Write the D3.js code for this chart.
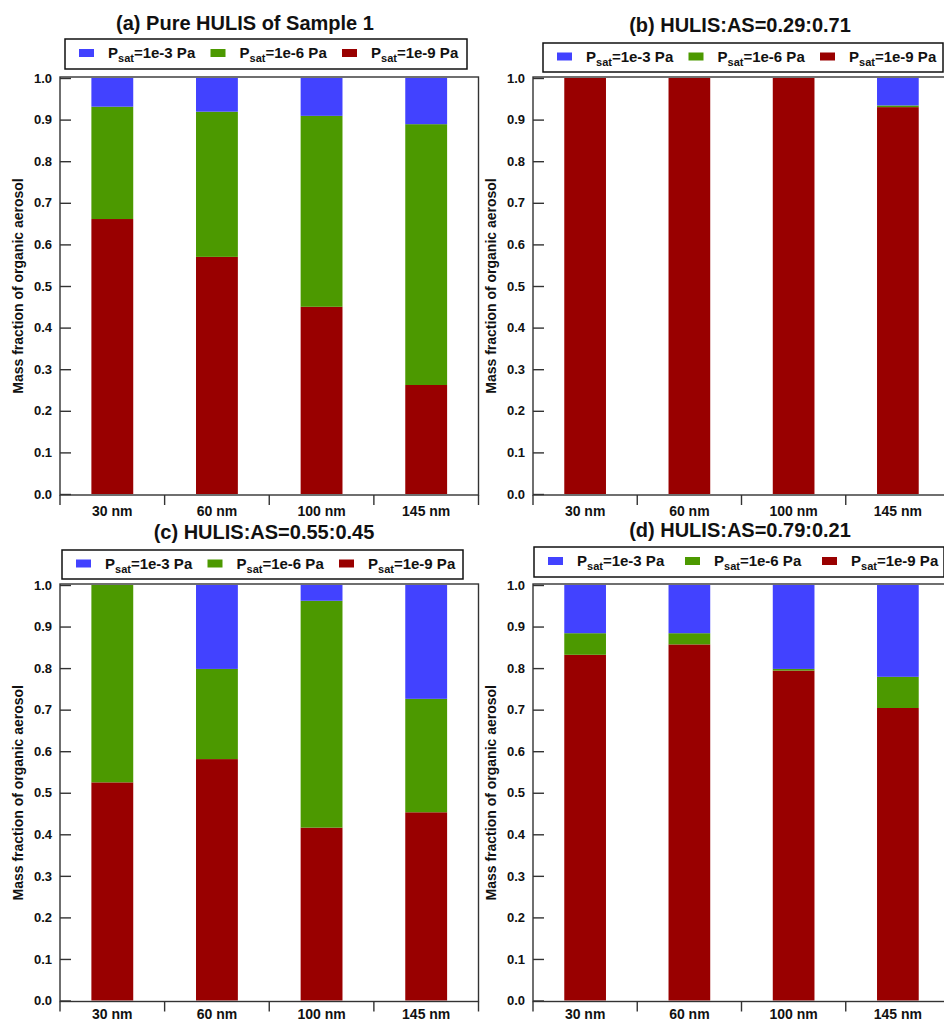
<!DOCTYPE html>
<html>
<head>
<meta charset="utf-8">
<script src="https://cdn.jsdelivr.net/npm/d3@7"></script>
<style>
  html, body { margin: 0; padding: 0; background: #fff; }
  svg { display: block; }
  text { font-family: "Liberation Sans", Arial, sans-serif; font-weight: bold; fill: #111; }
</style>
</head>
<body>
<script>
// ---------------- DATA ----------------
const categories = ["30 nm", "60 nm", "100 nm", "145 nm"];
const seriesKeys = ["p9", "p6", "p3"]; // stacking order bottom -> top
const legendOrder = ["p3", "p6", "p9"];
const legendExp = { p3: "=1e-3 Pa", p6: "=1e-6 Pa", p9: "=1e-9 Pa" };
const yTickValues = [0, 0.1, 0.2, 0.3, 0.4, 0.5, 0.6, 0.7, 0.8, 0.9, 1.0];
const yAxisTitle = "Mass fraction of organic aerosol";

// Panel (a) Pure HULIS of Sample 1
const aTitle = "(a) Pure HULIS of Sample 1";
const aP9 = [0.661, 0.570, 0.450, 0.262];
const aP6 = [0.270, 0.349, 0.459, 0.627];
const aP3 = [0.069, 0.081, 0.091, 0.111];

// Panel (b) HULIS:AS=0.29:0.71
const bTitle = "(b) HULIS:AS=0.29:0.71";
const bP9 = [1.000, 1.000, 1.000, 0.930];
const bP6 = [0.000, 0.000, 0.000, 0.004];
const bP3 = [0.000, 0.000, 0.000, 0.066];

// Panel (c) HULIS:AS=0.55:0.45
const cTitle = "(c) HULIS:AS=0.55:0.45";
const cP9 = [0.525, 0.581, 0.416, 0.453];
const cP6 = [0.475, 0.217, 0.546, 0.273];
const cP3 = [0.000, 0.202, 0.038, 0.274];

// Panel (d) HULIS:AS=0.79:0.21
const dTitle = "(d) HULIS:AS=0.79:0.21";
const dP9 = [0.832, 0.857, 0.794, 0.704];
const dP6 = [0.052, 0.027, 0.004, 0.075];
const dP3 = [0.116, 0.116, 0.202, 0.221];

// ---------------- STYLE / LAYOUT ----------------
const colors = { p3: "#4242ff", p6: "#4c9900", p9: "#990000" };

const panels = [
  { title: aTitle, p9: aP9, p6: aP6, p3: aP3,
    left: 60, right: 478.5, yTop: 78, yBot: 494, xPad: 11,
    titleX: 245, titleY: 30,
    leg: { x: 65, y: 39, w: 402, h: 30, step: 131.5 } },
  { title: bTitle, p9: bP9, p6: bP6, p3: bP3,
    left: 533, right: 950, yTop: 78, yBot: 494, xPad: 11,
    titleX: 740, titleY: 32,
    leg: { x: 543, y: 43, w: 400, h: 29, step: 131.5 } },
  { title: cTitle, p9: cP9, p6: cP6, p3: cP3,
    left: 60, right: 478.5, yTop: 585, yBot: 1000.5, xPad: 8,
    titleX: 264, titleY: 539,
    leg: { x: 62, y: 550, w: 401, h: 29, step: 131.5 } },
  { title: dTitle, p9: dP9, p6: dP6, p3: dP3,
    left: 533, right: 950, yTop: 585, yBot: 1000.5, xPad: 8,
    titleX: 740, titleY: 537,
    leg: { x: 534, y: 547, w: 410, h: 30, step: 137 } }
];

const W = 944, H = 1023;
const svg = d3.select("body").append("svg").attr("width", W).attr("height", H);

panels.forEach(p => {
  const g = svg.append("g");

  const x = d3.scaleBand().domain(categories).range([p.left, p.right])
    .paddingInner(0.6).paddingOuter(0.3);
  const y = d3.scaleLinear().domain([0, 1]).range([p.yBot, p.yTop]);

  const rows = categories.map((c, i) => ({ cat: c, p9: p.p9[i], p6: p.p6[i], p3: p.p3[i] }));
  const stacked = d3.stack().keys(seriesKeys)(rows);

  // bars
  g.append("g").selectAll("g").data(stacked).join("g")
    .attr("fill", d => colors[d.key])
    .selectAll("rect").data(d => d.filter(v => v[1] - v[0] > 0)).join("rect")
    .attr("x", d => x(d.data.cat))
    .attr("width", x.bandwidth())
    .attr("y", d => y(d[1]))
    .attr("height", d => Math.max(1, y(d[0]) - y(d[1])));

  // frame
  g.append("rect")
    .attr("x", p.left).attr("y", y(1) - 1)
    .attr("width", p.right - p.left).attr("height", y(0) - y(1) + 2)
    .attr("fill", "none").attr("stroke", "#333").attr("stroke-width", 1.4);

  // y axis (inward ticks)
  const yAxis = d3.axisLeft(y).tickValues(yTickValues).tickFormat(d3.format(".1f"))
    .tickSize(-11).tickPadding(8);
  const ya = g.append("g").attr("transform", `translate(${p.left},0)`).call(yAxis);
  ya.select(".domain").remove();
  ya.selectAll(".tick line").attr("stroke", "#333").attr("stroke-width", 1.4);
  ya.selectAll(".tick text").attr("font-size", 13).attr("font-weight", "bold")
    .attr("font-family", "Liberation Sans, Arial, sans-serif").attr("fill", "#111");

  // x axis: labels at band centers, ticks at band boundaries
  const xAxis = d3.axisBottom(x).tickSize(0).tickPadding(p.xPad);
  const xa = g.append("g").attr("transform", `translate(0,${y(0) + 1})`).call(xAxis);
  xa.select(".domain").remove();
  xa.selectAll(".tick text").attr("font-size", 14).attr("font-weight", "bold")
    .attr("font-family", "Liberation Sans, Arial, sans-serif").attr("fill", "#111");

  const bounds = d3.range(categories.length + 1).map(i => p.left + i * x.step());
  g.append("g").selectAll("line").data(bounds).join("line")
    .attr("x1", d => d).attr("x2", d => d)
    .attr("y1", y(0) + 1).attr("y2", y(0) + 11)
    .attr("stroke", "#333").attr("stroke-width", 1.4);

  // y axis title
  g.append("text")
    .attr("transform", `translate(${p.left - 37},${(y(0) + y(1)) / 2}) rotate(-90)`)
    .attr("text-anchor", "middle").attr("font-size", 14)
    .text(yAxisTitle);

  // title
  g.append("text").attr("x", p.titleX).attr("y", p.titleY)
    .attr("text-anchor", "middle").attr("font-size", 20).text(p.title);

  // legend
  const L = p.leg;
  g.append("rect").attr("x", L.x).attr("y", L.y).attr("width", L.w).attr("height", L.h)
    .attr("fill", "#fff").attr("stroke", "#111").attr("stroke-width", 1.5);
  const items = g.append("g").selectAll("g").data(legendOrder).join("g")
    .attr("transform", (d, i) => `translate(${L.x + 14 + i * L.step},${L.y})`);
  items.append("rect").attr("x", 0).attr("y", L.h / 2 - 5).attr("width", 15).attr("height", 8)
    .attr("fill", d => colors[d]);
  const t = items.append("text").attr("x", 29).attr("y", L.h / 2 + 4).attr("font-size", 15);
  t.append("tspan").text("P");
  t.append("tspan").attr("font-size", 11).attr("dy", 4).text("sat");
  t.append("tspan").attr("dy", -4).text(d => legendExp[d]);
});
</script>
</body>
</html>
